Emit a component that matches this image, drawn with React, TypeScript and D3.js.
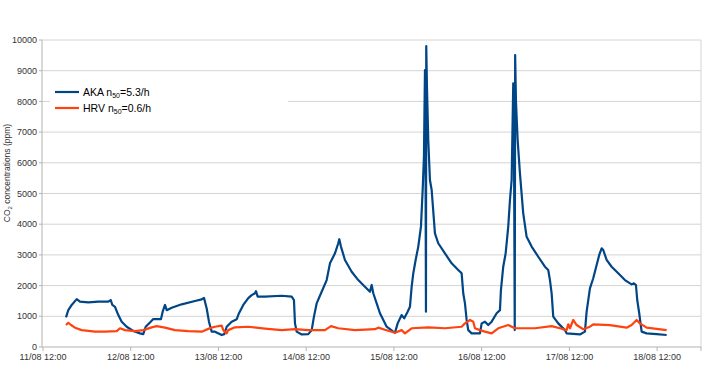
import React from "react";
import * as d3 from "d3";

// hours since 11/08 12:00
const akaHours = [6.29,6.92,7.85,9.22,10.12,12.39,15.13,17.86,18.52,18.96,19.69,20.6,21.53,22.89,24.7,26.53,27.43,28.09,29.27,30.17,32.28,32.74,33.37,33.84,35.2,37.94,41.58,43.41,44.04,44.78,45.4,46.14,47.05,48.88,49.59,50.25,51.61,52.98,53.61,54.79,56.15,57.08,57.99,58.26,58.73,60.72,65.29,68.03,68.65,68.93,69.39,70.76,72.57,73.5,74.12,74.86,76.23,77.6,78.5,79.87,80.77,81.05,81.51,82.6,84.44,86.24,88.07,89.44,89.91,90.35,91.28,92.18,94.01,95.82,96.28,97.02,98.11,98.82,99.75,100.38,100.85,101.29,101.94,102.66,103.39,103.86,104.21,104.49,104.62,104.76,104.84,105.03,105.39,105.85,106.32,107.22,108.12,109.96,111.79,113.59,114.52,114.96,115.43,115.89,116.33,117.26,119.53,120.0,120.9,121.8,122.73,124.1,125.0,125.27,125.9,126.56,127.27,127.74,128.2,128.64,128.83,129.05,129.16,129.38,129.84,130.47,131.37,132.3,133.67,135.48,137.31,138.21,138.68,139.14,139.58,140.95,142.78,143.24,146.88,148.25,148.71,149.62,150.52,151.45,152.16,152.82,153.26,154.18,155.55,157.36,159.19,161.02,161.65,162.2,162.56,163.1,163.76,165.13,167.86,170.6];
const akaValues = [967,1200,1370,1560,1475,1455,1475,1475,1530,1370,1310,1040,825,660,520,445,420,660,800,910,910,1150,1370,1200,1280,1390,1500,1550,1600,1255,825,500,500,390,420,660,825,900,1100,1370,1590,1690,1750,1820,1640,1640,1670,1640,1530,770,500,410,420,550,990,1420,1800,2180,2725,3050,3380,3510,3270,2835,2450,2180,1965,1800,2020,1750,1420,1100,660,500,465,770,1040,935,1150,1310,1965,2400,2835,3270,3920,5115,6200,9020,7000,1150,9800,8500,6740,5440,5115,3700,3380,3050,2725,2510,2400,1750,1420,880,550,445,445,770,825,715,825,1100,1200,1855,2615,3050,3920,4790,5440,8590,7000,550,9510,8000,6740,5655,4355,3590,3270,2940,2615,2510,2180,1750,990,770,550,445,410,500,1150,1910,2240,2670,3000,3215,3160,2835,2615,2400,2180,2040,2075,2020,1530,1100,500,445,420,390];

const hrvHours = [6.29,6.92,7.66,8.75,10.59,14.22,16.96,20.16,21.06,22.43,25.16,27.43,29.73,31.1,33.37,36.11,39.74,43.41,45.21,46.14,47.05,48.88,49.32,50.25,50.68,52.52,56.15,60.72,65.29,68.93,72.57,77.13,78.78,80.77,85.34,90.81,91.71,93.54,96.28,98.11,99.02,100.85,105.39,109.96,114.52,115.43,116.79,117.7,118.16,119.53,120.9,122.73,124.54,127.27,129.1,134.57,139.14,141.41,143.24,143.68,144.15,145.05,145.98,147.79,149.62,150.52,155.09,159.66,161.02,162.39,163.29,165.13,167.86,170.6];
const hrvValues = [717,790,717,630,550,500,500,520,610,550,520,550,640,680,630,550,520,500,590,630,660,695,550,445,550,640,660,600,550,580,550,550,680,610,550,580,630,560,465,550,445,610,640,610,660,770,880,825,610,550,500,445,610,715,610,610,680,610,550,740,610,880,715,580,660,740,715,630,715,880,770,630,590,550];

const yTicks = [0,1000,2000,3000,4000,5000,6000,7000,8000,9000,10000];
const seriesNames = ["AKA", "HRV"];
const seriesColors = ["#004586", "#ff420e"];
const yTitle = "CO";

const W = 720, H = 379;
const start = new Date(2014, 7, 11, 12, 0);
const end = new Date(2014, 7, 19, 0, 0);
const toDate = (h: number) => new Date(start.getTime() + h * 3600 * 1000);

export default function App() {
  const x = d3.scaleTime().domain([start, end]).range([43, 701]);
  const y = d3.scaleLinear().domain([0, 10000]).range([347, 40]);
  const xTicks = d3.range(0, 8).map((d) => toDate(d * 24));
  const fmt = d3.timeFormat("%d/%m %H:%M");
  const line = d3
    .line<[number, number]>()
    .x((d) => x(toDate(d[0])))
    .y((d) => y(d[1]));
  const aka = akaHours.map((h, i) => [h, akaValues[i]] as [number, number]);
  const hrv = hrvHours.map((h, i) => [h, hrvValues[i]] as [number, number]);
  const font = "'Liberation Sans', Arial, sans-serif";
  const x0 = x.range()[0] - 1;
  const x1 = x.range()[1];
  return (
    <svg width={W} height={H} style={{ position: "absolute", left: 0, top: 0, background: "#fff" }} fontFamily={font}>
      <rect width={W} height={H} fill="#fff" />
      {yTicks.map((t) => (
        <g key={t}>
          {t > 0 && <line x1={x0} x2={x1} y1={y(t)} y2={y(t)} stroke="#d4d4d4" strokeWidth={1} />}
          <line x1={x0 - 3} x2={x0} y1={y(t)} y2={y(t)} stroke="#b3b3b3" />
          <text x={x0 - 5} y={y(t)} dy="0.35em" textAnchor="end" fontSize={9} fill="#333">{t}</text>
        </g>
      ))}
      <line x1={x1} x2={x1} y1={y(10000)} y2={y(0)} stroke="#d4d4d4" />
      <line x1={x0} x2={x0} y1={y(10000)} y2={y(0)} stroke="#b3b3b3" />
      <line x1={x0} x2={x1} y1={y(0)} y2={y(0)} stroke="#b3b3b3" />
      {xTicks.map((d, i) => (
        <g key={i}>
          <line x1={x(d)} x2={x(d)} y1={y(0)} y2={y(0) + 4} stroke="#b3b3b3" />
          <text x={x(d)} y={y(0) + 13} textAnchor="middle" fontSize={9} fill="#333">{fmt(d)}</text>
        </g>
      ))}
      <line x1={x1} x2={x1} y1={y(0)} y2={y(0) + 4} stroke="#b3b3b3" />
      <text transform={`translate(10,173) rotate(-90)`} textAnchor="middle" fontSize={8.5} fill="#333">
        {yTitle}<tspan fontSize={6} dy={2}>2</tspan><tspan dy={-2}> concentrations (ppm)</tspan>
      </text>
      <path d={line(aka) || ""} fill="none" stroke={seriesColors[0]} strokeWidth={2.2} strokeLinejoin="round" />
      <path d={line(hrv) || ""} fill="none" stroke={seriesColors[1]} strokeWidth={2.2} strokeLinejoin="round" />
      <rect x={50} y={76} width={238} height={50} fill="#fff" />
      {[
        { name: seriesNames[0], val: "=5.3/h", color: seriesColors[0], yy: 92 },
        { name: seriesNames[1], val: "=0.6/h", color: seriesColors[1], yy: 108 },
      ].map((s) => (
        <g key={s.name}>
          <line x1={55} x2={79} y1={s.yy} y2={s.yy} stroke={s.color} strokeWidth={2.2} />
          <text x={83} y={s.yy} dy="0.35em" fontSize={10.5} fill="#000">
            {s.name} n<tspan fontSize={7} dy={2}>50</tspan><tspan dy={-2}>{s.val}</tspan>
          </text>
        </g>
      ))}
    </svg>
  );
}
